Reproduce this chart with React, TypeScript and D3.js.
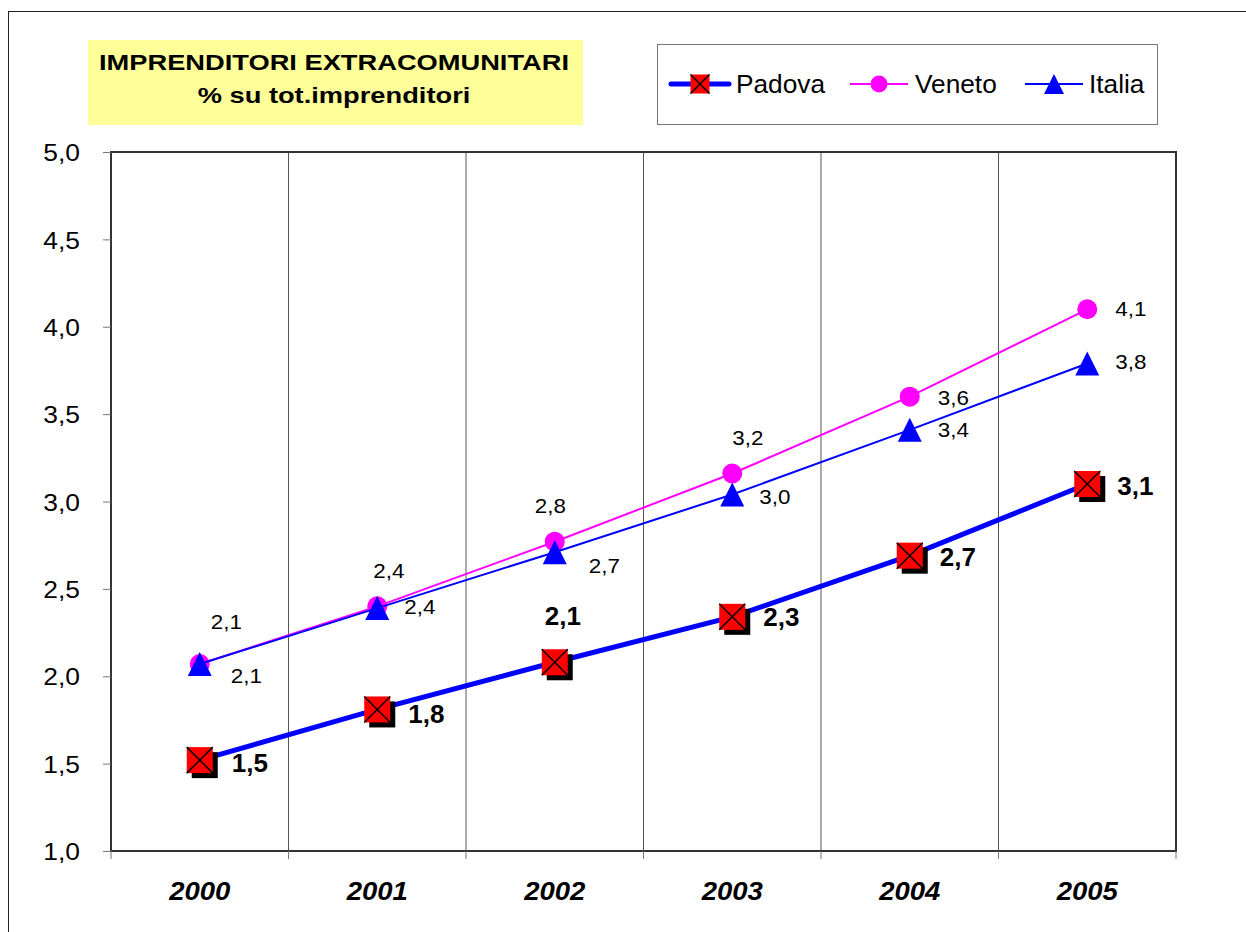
import React, { useEffect, useRef } from 'react';
import * as d3 from 'd3';

const years = ['2000', '2001', '2002', '2003', '2004', '2005'];
const padova = [1.52, 1.81, 2.08, 2.34, 2.69, 3.1];
const veneto = [2.07, 2.4, 2.77, 3.16, 3.6, 4.1];
const italia = [2.07, 2.39, 2.71, 3.04, 3.41, 3.79];
const yTicks = [1.0, 1.5, 2.0, 2.5, 3.0, 3.5, 4.0, 4.5, 5.0];
const titleLines = ['IMPRENDITORI EXTRACOMUNITARI', '% su tot.imprenditori'];
const seriesNames = ['Padova', 'Veneto', 'Italia'];

// label placement (dx to left edge, dy to middle) from the point, as in the original sheet
const padovaLabelPos = [[32, 2], [31, 4], [-10, -47], [31, 0], [30, 1], [30, 2]];
const venetoLabelPos = [[11, -42], [-4, -36], [-20, -36], [0, -36], [28, 1], [28, 0]];
const italiaLabelPos = [[31, 12], [27, -1], [34, 14], [27, 2], [28, 0], [28, -2]];

const fmt = (v: number) => v.toFixed(1).replace('.', ',');

const App = () => {
    const ref = useRef<SVGSVGElement>(null);

    useEffect(() => {
        const svg = d3.select(ref.current);
        svg.selectAll('*').remove();

        const font = 'Arial, "Liberation Sans", sans-serif';
        const margin = { top: 152, left: 111, right: 1176, bottom: 851 };

        // text drawn wider than the font, like the stretched original
        const stretch = (sel: any, x: any, y: any, sx: number) =>
            sel.attr('x', 0).attr('y', 0)
                .attr('transform', (d: any, i: number) => {
                    const px = typeof x === 'function' ? x(d, i) : x;
                    const py = typeof y === 'function' ? y(d, i) : y;
                    return `translate(${px},${py}) scale(${sx},1)`;
                });

        // outer chart border (only top and left edges fall in the picture)
        svg.append('rect')
            .attr('x', 8.5).attr('y', 11.5)
            .attr('width', 1300).attr('height', 1000)
            .attr('fill', 'white').attr('stroke', '#222').attr('stroke-width', 1);

        const x = d3.scaleBand()
            .domain(years)
            .range([margin.left, margin.right]);

        const y = d3.scaleLinear()
            .domain([1, 5])
            .range([margin.bottom, margin.top]);

        // vertical gridlines between categories
        svg.append('g')
            .selectAll('line')
            .data(years.slice(1))
            .enter().append('line')
            .attr('x1', d => x(d)!).attr('x2', d => x(d)!)
            .attr('y1', margin.top).attr('y2', margin.bottom)
            .attr('stroke', '#555').attr('stroke-width', 1);

        // plot area border
        svg.append('rect')
            .attr('x', margin.left).attr('y', margin.top)
            .attr('width', margin.right - margin.left)
            .attr('height', margin.bottom - margin.top)
            .attr('fill', 'none').attr('stroke', '#333').attr('stroke-width', 2);

        // y axis
        const yAxis = svg.append('g')
            .attr('transform', `translate(${margin.left},0)`)
            .call(d3.axisLeft(y).tickValues(yTicks).tickSize(8).tickFormat(d => fmt(+d)));
        yAxis.select('.domain').remove();
        yAxis.selectAll('line').attr('stroke', '#777');
        stretch(yAxis.selectAll('text'), -31, 0, 1.1)
            .attr('dy', '0.36em')
            .attr('font-family', font).attr('font-size', 24).attr('fill', '#000');

        // x axis ticks at band edges
        svg.append('g')
            .selectAll('line')
            .data(d3.range(years.length + 1))
            .enter().append('line')
            .attr('x1', i => margin.left + i * x.bandwidth())
            .attr('x2', i => margin.left + i * x.bandwidth())
            .attr('y1', margin.bottom).attr('y2', margin.bottom + 8)
            .attr('stroke', '#777');

        stretch(svg.append('g')
            .selectAll('text')
            .data(years)
            .enter().append('text'), (d: string) => x(d)! + x.bandwidth() / 2, 900, 1.1)
            .attr('text-anchor', 'middle')
            .attr('font-family', font).attr('font-size', 25)
            .attr('font-weight', 'bold').attr('font-style', 'italic')
            .text((d: string) => d);

        const cx = (i: number) => x(years[i])! + x.bandwidth() / 2;
        const line = d3.line<number>().x((d, i) => cx(i)).y(d => y(d));

        const drawSquare = (g: any, px: number, py: number, s: number, shadow: boolean) => {
            if (shadow) {
                g.append('rect')
                    .attr('x', px - s / 2 + 5).attr('y', py - s / 2 + 5)
                    .attr('width', s).attr('height', s).attr('fill', '#000');
            }
            g.append('rect')
                .attr('x', px - s / 2).attr('y', py - s / 2)
                .attr('width', s).attr('height', s).attr('fill', '#ff0000');
            g.append('path')
                .attr('d', `M${px - s / 2},${py - s / 2}L${px + s / 2},${py + s / 2}M${px + s / 2},${py - s / 2}L${px - s / 2},${py + s / 2}`)
                .attr('stroke', '#000').attr('stroke-width', 1.5);
        };
        const drawTriangle = (g: any, px: number, py: number, s: number) => {
            g.append('path')
                .attr('d', `M${px},${py - s / 2}L${px + s / 2},${py + s / 2}L${px - s / 2},${py + s / 2}Z`)
                .attr('fill', '#0000ff');
        };
        const drawCircle = (g: any, px: number, py: number, r: number) => {
            g.append('circle').attr('cx', px).attr('cy', py).attr('r', r).attr('fill', '#ff00ff');
        };

        // Veneto
        const gV = svg.append('g');
        gV.append('path').attr('d', line(veneto)!)
            .attr('fill', 'none').attr('stroke', '#ff00ff').attr('stroke-width', 2);
        veneto.forEach((v, i) => drawCircle(gV, cx(i), y(v), 10));

        // Italia
        const gI = svg.append('g');
        gI.append('path').attr('d', line(italia)!)
            .attr('fill', 'none').attr('stroke', '#0000ff').attr('stroke-width', 2);
        italia.forEach((v, i) => drawTriangle(gI, cx(i), y(v), 24));

        // Padova
        const gP = svg.append('g');
        gP.append('path').attr('d', line(padova)!)
            .attr('fill', 'none').attr('stroke', '#0000ff').attr('stroke-width', 5);
        padova.forEach((v, i) => drawSquare(gP, cx(i), y(v), 26, true));

        // value labels
        const addLabels = (values: number[], pos: number[][], bold: boolean) => {
            stretch(svg.append('g')
                .selectAll('text')
                .data(values)
                .enter().append('text'),
                (d: number, i: number) => cx(i) + pos[i][0],
                (d: number, i: number) => y(d) + pos[i][1],
                bold ? 1.0 : 1.12)
                .attr('dy', '0.36em')
                .attr('font-family', font)
                .attr('font-size', bold ? 26 : 20)
                .attr('font-weight', bold ? 'bold' : 'normal')
                .text((d: number) => fmt(d));
        };
        addLabels(veneto, venetoLabelPos, false);
        addLabels(italia, italiaLabelPos, false);
        addLabels(padova, padovaLabelPos, true);

        // title box
        svg.append('rect')
            .attr('x', 88).attr('y', 40).attr('width', 495).attr('height', 85)
            .attr('fill', '#ffff99');
        stretch(svg.append('g')
            .selectAll('text')
            .data(titleLines)
            .enter().append('text'), 334, (d: string, i: number) => 70 + i * 33, 1.24)
            .attr('text-anchor', 'middle')
            .attr('font-family', font).attr('font-size', 22).attr('font-weight', 'bold')
            .text((d: string) => d);

        // legend
        const legend = svg.append('g');
        legend.append('rect')
            .attr('x', 657.5).attr('y', 44.5).attr('width', 500).attr('height', 80)
            .attr('fill', 'white').attr('stroke', '#777').attr('stroke-width', 1);

        const ly = 84;
        const legendX = [671, 850, 1025];
        const legendTextX = [736, 915, 1089];
        seriesNames.forEach((name, k) => {
            const x0 = legendX[k];
            legend.append('line')
                .attr('x1', x0).attr('x2', x0 + 58)
                .attr('y1', ly).attr('y2', ly)
                .attr('stroke', k === 1 ? '#ff00ff' : '#0000ff')
                .attr('stroke-width', k === 0 ? 5 : 2)
                .attr('stroke-linecap', k === 0 ? 'round' : 'butt');
            const mx = x0 + 29;
            if (k === 0) drawSquare(legend, mx, ly, 19, false);
            else if (k === 1) drawCircle(legend, mx, ly, 8.5);
            else drawTriangle(legend, mx, ly, 20);
            stretch(legend.append('text'), legendTextX[k], ly, 1.05)
                .attr('dy', '0.36em')
                .attr('font-family', font).attr('font-size', 25)
                .text(name);
        });
    }, []);

    return (
        <svg ref={ref} width={1246} height={932}
            style={{ position: 'absolute', left: 0, top: 0, background: 'white' }} />
    );
};

export default App;
